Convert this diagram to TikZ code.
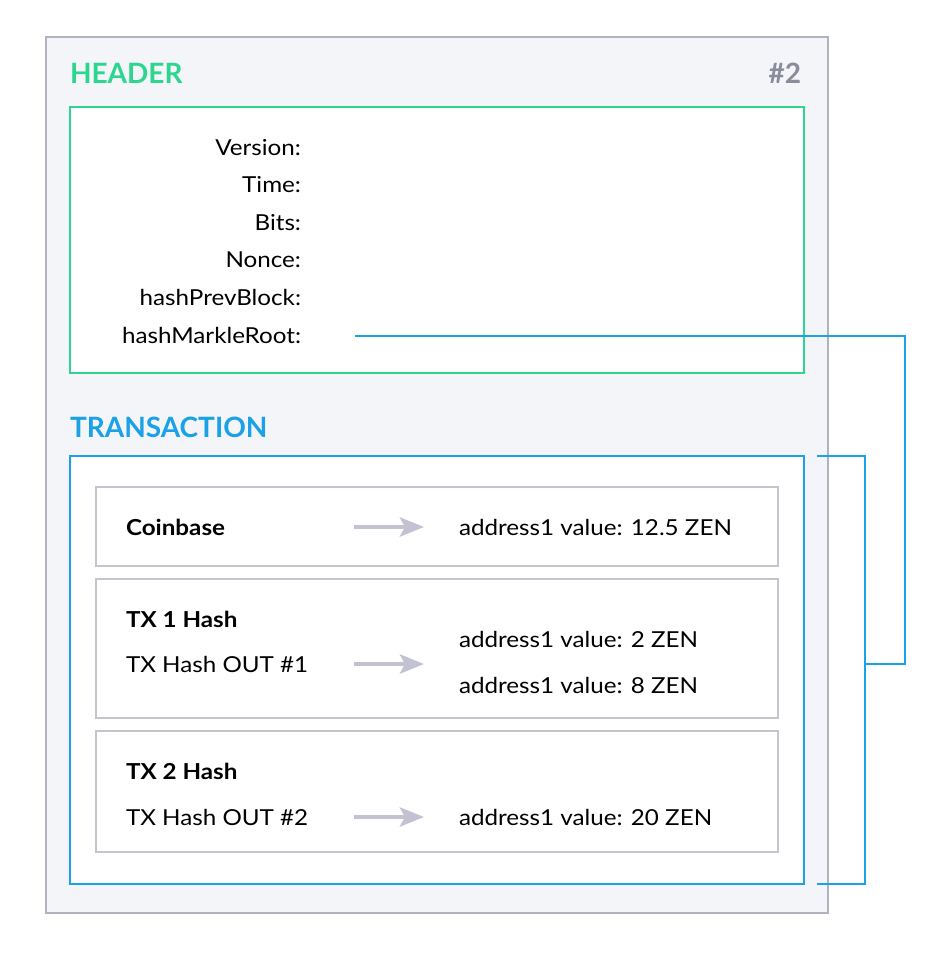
\documentclass[tikz,border=0pt]{standalone}
\usepackage{fontspec}
\setmainfont{Lato}
\newfontfamily\bodyfont[FakeStretch=1.1]{Lato}
\usetikzlibrary{positioning,arrows.meta}

\definecolor{blockfill}{HTML}{F4F5F9}
\definecolor{blockgray}{HTML}{B2B1C1}
\definecolor{numgray}{HTML}{8A8B9B}
\definecolor{headgreen}{HTML}{2DD68F}
\definecolor{txblue}{HTML}{1AA1E6}
\definecolor{itemgray}{HTML}{C5C4CF}
\definecolor{arrowgray}{HTML}{C3C2D2}

\begin{document}
\begin{tikzpicture}[
    x=1pt, y=-1pt,
    every node/.style={font=\bodyfont\fontsize{22}{26}\selectfont, inner sep=0pt, outer sep=0pt},
    sectitle/.style={font=\fontsize{28}{32}\selectfont\bfseries, anchor=base west},
    field/.style={anchor=base east},
    itemname/.style={font=\bodyfont\fontsize{22}{26}\selectfont\bfseries, anchor=base west},
    itemtext/.style={anchor=base west},
    headbox/.style={rectangle, draw=headgreen, fill=white, line width=2pt, minimum width=734pt, minimum height=266pt},
    txbox/.style={rectangle, draw=txblue, fill=white, line width=2pt, minimum width=734pt, minimum height=428pt},
    txitem/.style={rectangle, draw=itemgray, line width=2pt, minimum width=682pt, minimum height=#1},
    flow/.style={-{Stealth[length=24pt, width=19pt, inset=5pt]}, line width=4.5pt, color=arrowgray},
    link/.style={line width=2pt, color=txblue}
]
\useasboundingbox (0,0) rectangle (948,966);

% Block
\node[rectangle, draw=blockgray, fill=blockfill, line width=2pt, minimum width=782pt, minimum height=876pt] (block) at (437,475) {};
\node[sectitle, text=headgreen] (headtitle) at (70,84) {HEADER};
\node[sectitle, text=numgray, anchor=base east] (blocknum) at (801,84) {\#2};

% Header fields
\node[headbox] (header) at (437,240) {};
\node[field] (version) at (301,155) {Version:};
\node[field] (time) at (301,192) {Time:};
\node[field] (bits) at (301,230) {Bits:};
\node[field] (nonce) at (301,267) {Nonce:};
\node[field] (prevblock) at (301,305) {hashPrevBlock:};
\node[field] (merkleroot) at (301,343) {hashMarkleRoot:};

% Transactions
\node[sectitle, text=txblue] (txtitle) at (70,437) {TRANSACTION};
\node[txbox] (txs) at (437,670) {};

\node[txitem=79pt] (cb) at (437,526.5) {};
\node[itemname] (cbname) at (126,535) {Coinbase};
\node[itemtext] (cbout) at (459,535) {address1 value: 12.5 ZEN};

\node[txitem=139pt] (txa) at (437,648.5) {};
\node[itemname] (txaname) at (126,627) {TX 1 Hash};
\node[itemtext] (txain) at (126,672) {TX Hash OUT \#1};
\node[itemtext] (txaouta) at (459,647) {address1 value: 2 ZEN};
\node[itemtext] (txaoutb) at (459,693) {address1 value: 8 ZEN};

\node[txitem=121pt] (txb) at (437,791.5) {};
\node[itemname] (txbname) at (126,779) {TX 2 Hash};
\node[itemtext] (txbin) at (126,825) {TX Hash OUT \#2};
\node[itemtext] (txbout) at (459,825) {address1 value: 20 ZEN};

% Arrows
\coordinate (cbfrom) at (354,527);
\coordinate (cbto) at (424,527);
\coordinate (txafrom) at (354,664);
\coordinate (txato) at (424,664);
\coordinate (txbfrom) at (354,817);
\coordinate (txbto) at (424,817);
\draw[flow] (cbfrom) -- (cbto);
\draw[flow] (txafrom) -- (txato);
\draw[flow] (txbfrom) -- (txbto);

% Merkle root link
\coordinate (rootstart) at (355,336);
\coordinate (brtop) at (817,456);
\coordinate (brbottom) at (817,884);
\draw[link] (brtop) -- (865,456) -- (865,884) -- (brbottom);
\coordinate (brmid) at (865,664);
\draw[link] (rootstart) -- (905,336) |- (brmid);

\end{tikzpicture}
\end{document}
